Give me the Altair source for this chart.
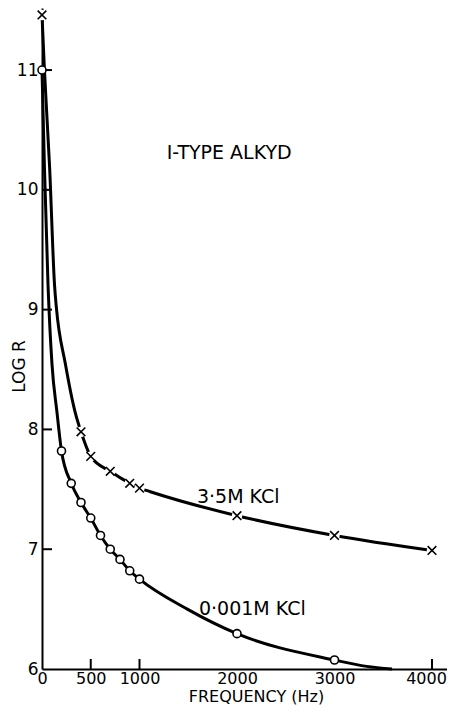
import altair as alt
import pandas as pd

# ---- data ----
# 3.5M KCl (crosses)
hi_pts_freq = [0, 400, 500, 700, 900, 1000, 2000, 3000, 4000]
hi_pts_logr = [11.46, 7.98, 7.775, 7.65, 7.55, 7.51, 7.28, 7.115, 6.99]
# extra points
hi_curve_freq = [25, 78, 129, 147, 239, 341, 1111]
hi_curve_logr = [11.0, 10.19, 9.2, 9.02, 8.55, 8.14, 7.48]

# 0.001M KCl (circles)
lo_pts_freq = [0, 200, 300, 400, 500, 600, 700, 800, 900, 1000, 2000, 3000]
lo_pts_logr = [11.0, 7.82, 7.55, 7.39, 7.26, 7.115, 7.0, 6.915, 6.82, 6.75, 6.295, 6.075]
# extra points
lo_curve_freq = [25, 62, 102, 154, 1490, 3330, 3590]
lo_curve_logr = [10.19, 9.2, 8.55, 8.14, 6.5, 6.022, 6.0]

y_label_values = [6, 7, 8, 9, 10, 11]
y_tick_values = [7, 8, 9, 10, 11]
x_label_values = [0, 500, 1000, 2000, 3000, 4000]
x_tick_values = [500, 1000, 4000]

title_text = "I-TYPE ALKYD"
hi_label = "3\u00b75M  KCl"
lo_label = "0\u00b7001M  KCl"

# ---- layout ----
W, H = 405, 661
FONT = "DejaVu Sans"
FS_YTICK = 17
FS_XTICK = 16
FS_TITLE = 16
FS_TEXT = 19
TICK = 10

hi_pts = pd.DataFrame({"f": hi_pts_freq, "r": hi_pts_logr})
lo_pts = pd.DataFrame({"f": lo_pts_freq, "r": lo_pts_logr})
hi_curve = pd.concat([hi_pts, pd.DataFrame({"f": hi_curve_freq, "r": hi_curve_logr})]).sort_values("f")
lo_curve = pd.concat([lo_pts, pd.DataFrame({"f": lo_curve_freq, "r": lo_curve_logr})]).sort_values("f")

xs = alt.Scale(domain=[0, 4154], nice=False, zero=False)
ys = alt.Scale(domain=[6, 11.518], nice=False, zero=False)

x_axis = alt.Axis(
    values=x_label_values, format="d", grid=False, ticks=False,
    domain=True, domainColor="black", domainWidth=2,
    labelPadding=1, labelFlush=False,
    labelOffset={"condition": {"test": f"datum.value == {x_label_values[-1]}", "value": -6}, "value": 0},
    labelFont=FONT, labelFontSize=FS_XTICK, labelColor="black",
    title="FREQUENCY (Hz)", titleFont=FONT, titleFontSize=FS_TITLE,
    titleFontWeight="normal", titleColor="black",
    titleX=214, titleY=32, titleAlign="center", titleBaseline="alphabetic",
)
y_axis = alt.Axis(
    values=y_label_values, format="d", grid=False, ticks=False,
    domain=True, domainColor="black", domainWidth=2,
    labelPadding=4, labelFlush=False,
    labelFont=FONT, labelFontSize=FS_YTICK, labelColor="black",
    title="LOG R", titleFont=FONT, titleFontSize=FS_TITLE + 1,
    titleFontWeight="normal", titleColor="black", titleAngle=270,
    titleX=-23, titleY=358, titleAlign="center", titleBaseline="middle",
)

# every layer carries the same axis definition so they merge into one
X = alt.X("f:Q", scale=xs, axis=x_axis)
Y = alt.Y("r:Q", scale=ys, axis=y_axis)

hi_line = alt.Chart(hi_curve).mark_line(
    color="black", strokeWidth=3, interpolate="monotone"
).encode(x=X, y=Y, order="f:Q")

lo_line = alt.Chart(lo_curve).mark_line(
    color="black", strokeWidth=3, interpolate="monotone"
).encode(x=X, y=Y, order="f:Q")

# inward ticks drawn from the tick value lists
y_ticks = alt.Chart(pd.DataFrame({"r": y_tick_values})).mark_rule(
    color="black", strokeWidth=2
).encode(
    y=Y, x=alt.value(0), x2=alt.value(TICK),
)
x_ticks = alt.Chart(pd.DataFrame({"f": x_tick_values})).mark_rule(
    color="black", strokeWidth=2
).encode(
    x=X, y=alt.value(H), y2=alt.value(H - TICK),
)

hi_back = alt.Chart(hi_pts).mark_point(
    shape="circle", filled=True, color="white", opacity=1, size=110
).encode(x=X, y=Y)

hi_marks = alt.Chart(hi_pts).mark_point(
    shape="M-1,-1L1,1M-1,1L1,-1", filled=False, color="black",
    strokeWidth=1.6, size=75, opacity=1
).encode(x=X, y=Y)

lo_marks = alt.Chart(lo_pts).mark_point(
    shape="circle", filled=True, fill="white", stroke="black",
    strokeWidth=1.6, size=64, opacity=1
).encode(x=X, y=Y)

# annotation positions are given in data units
ann_text = [title_text, hi_label, lo_label]
ann_f = [1920, 2013, 2157]
ann_r = [10.31, 7.44, 6.50]

labels = alt.Chart(pd.DataFrame({"t": ann_text, "f": ann_f, "r": ann_r})).mark_text(
    font=FONT, fontSize=FS_TEXT, color="black", align="center", baseline="middle"
).encode(x=X, y=Y, text="t:N")

chart = alt.layer(
    hi_line, lo_line, y_ticks, x_ticks, hi_back, hi_marks, lo_marks, labels,
).properties(
    width=W, height=H,
    padding={"left": 34, "top": 0, "right": 0, "bottom": 36},
    autosize=alt.AutoSizeParams(type="none"),
    background="white",
).configure_view(strokeWidth=0)

chart.save("out.html", embed_options={"renderer": "svg", "actions": False})
